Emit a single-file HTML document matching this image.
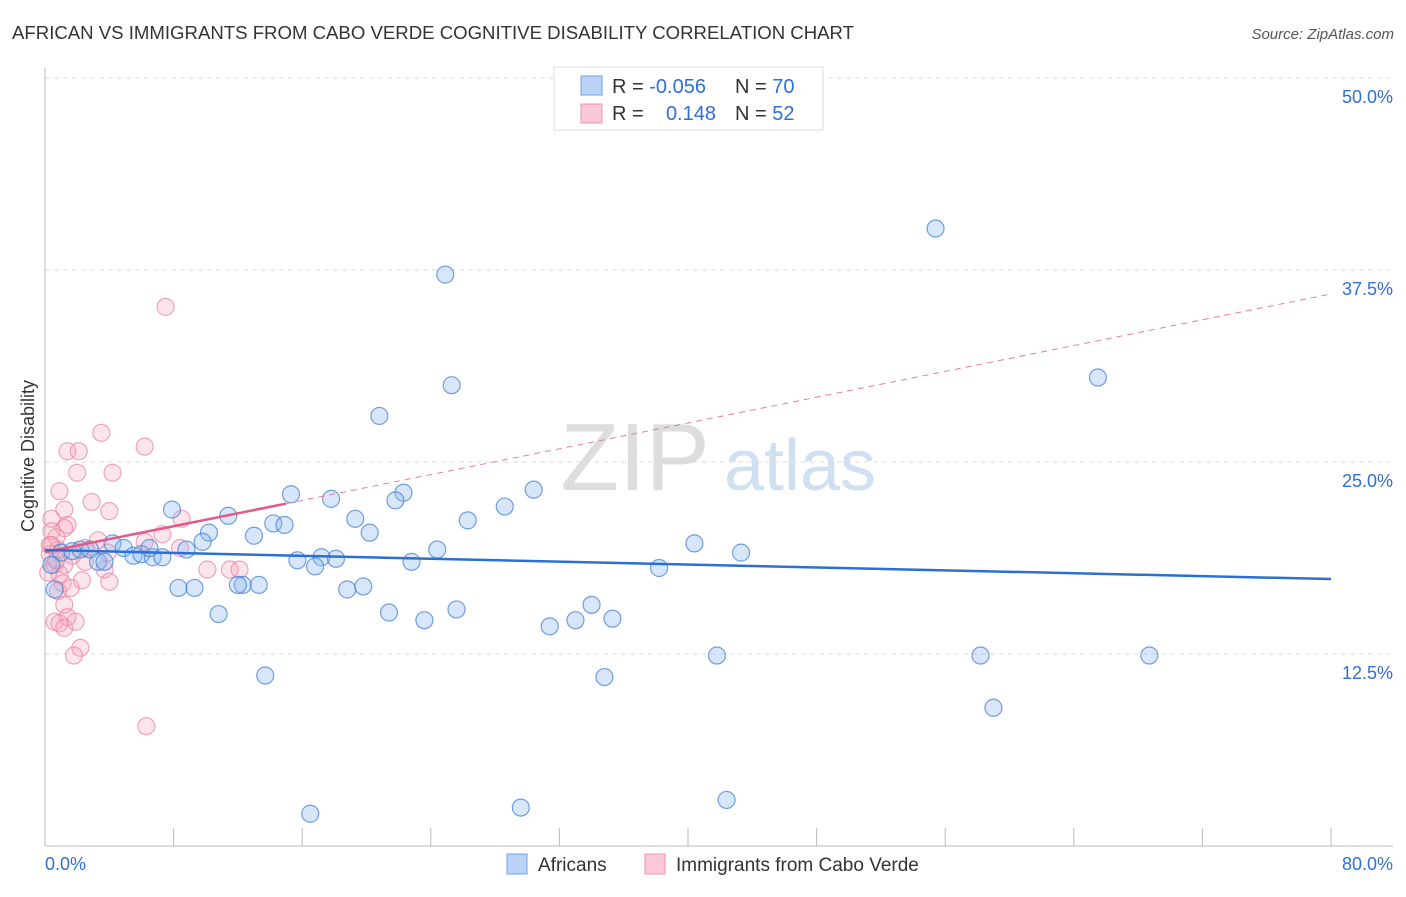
<!DOCTYPE html>
<html><head><meta charset="utf-8"><style>
body{margin:0;background:#fff;font-family:"Liberation Sans",sans-serif;}
svg text{font-family:"Liberation Sans",sans-serif;}
</style></head><body>
<svg id="chart" width="1406" height="892" xmlns="http://www.w3.org/2000/svg">
<text x="12" y="39" font-size="18" fill="#333" textLength="842" lengthAdjust="spacingAndGlyphs">AFRICAN VS IMMIGRANTS FROM CABO VERDE COGNITIVE DISABILITY CORRELATION CHART</text>
<text x="1394" y="39" font-size="15" fill="#555" font-style="italic" text-anchor="end">Source: ZipAtlas.com</text>
<g><text x="635" y="490" font-size="96" fill="#ddd" font-family="Liberation Serif,serif" text-anchor="middle">ZIP</text><text x="800" y="490" font-size="72" fill="#cfe0f3" text-anchor="middle">atlas</text></g>
<g id="grid"></g>
<g id="axes"></g>
<g id="marks"></g>
<text transform="translate(34,456) rotate(-90)" font-size="18" fill="#333" text-anchor="middle">Cognitive Disability</text>
<g>
<rect x="554" y="67" width="269" height="63" fill="#fff" stroke="#ddd"/>
<rect x="581" y="76" width="21" height="19" fill="#b8d3f5" stroke="#6fa3e6"/>
<rect x="581" y="104" width="21" height="19" fill="#fbc8d8" stroke="#ee92ad"/>
<text x="612" y="93" font-size="20" fill="#333">R = <tspan fill="#2f6fd6">-0.056</tspan></text>
<text x="735" y="93" font-size="20" fill="#333">N = <tspan fill="#2f6fd6">70</tspan></text>
<text x="612" y="120" font-size="20" fill="#333">R = </text>
<text x="716" y="120" font-size="20" fill="#2f6fd6" text-anchor="end">0.148</text>
<text x="735" y="120" font-size="20" fill="#333">N = <tspan fill="#2f6fd6">52</tspan></text>
</g>
<g>
<rect x="507" y="854" width="20" height="20" fill="#b8d3f5" stroke="#6fa3e6"/>
<text x="538" y="871" font-size="19" fill="#333">Africans</text>
<rect x="645" y="854" width="20" height="20" fill="#fbc8d8" stroke="#ee92ad"/>
<text x="676" y="871" font-size="19" fill="#333">Immigrants from Cabo Verde</text>
</g>
</svg>
<script>
const yTicks=[12.5,25,37.5,50];
const yTickLabels=["12.5%","25.0%","37.5%","50.0%"];
const xTicks=[0,10,20,30,40,50,60,70,80,90,100];
const africanX=[55.4,24.9,65.5,25.3,20.8,30.4,22.3,15.3,17.8,21.8,28.6,7.9,11.4,19.3,26.3,14.2,14.9,10.2,20.2,13.0,9.8,40.4,4.2,8.8,24.4,43.3,4.9,1.0,1.7,2.2,2.8,3.3,3.7,5.5,6.0,6.7,7.3,6.5,15.7,17.2,18.1,16.8,22.8,38.2,8.3,9.3,12.3,13.3,12.0,18.8,19.8,10.8,21.4,34.0,25.6,35.3,33.0,23.6,31.4,41.8,58.2,68.7,13.7,34.8,59.0,42.4,29.6,16.5,0.6,0.4];
const africanY=[40.2,37.2,30.5,30.0,28.0,23.2,23.0,22.9,22.6,22.5,22.1,21.9,21.5,21.3,21.2,21.0,20.9,20.4,20.4,20.2,19.8,19.7,19.7,19.3,19.3,19.1,19.4,19.1,19.2,19.3,19.3,18.5,18.5,18.9,19.0,18.8,18.8,19.4,18.6,18.8,18.7,18.2,18.5,18.1,16.8,16.8,17.0,17.0,17.0,16.7,16.9,15.1,15.2,15.7,15.4,14.8,14.7,14.7,14.3,12.4,12.4,12.4,11.1,11.0,9.0,3.0,2.5,2.1,16.7,18.3];
const caboX=[7.5,3.5,6.2,1.4,2.1,2.0,4.2,0.9,2.9,1.2,4.0,8.5,0.4,1.4,1.2,0.4,7.3,0.7,6.2,3.3,0.3,2.5,0.8,1.7,3.9,8.4,2.5,10.1,11.5,12.1,0.3,0.6,1.2,3.7,0.9,2.3,4.0,0.2,1.1,1.6,0.8,1.2,1.4,0.6,0.9,1.2,1.9,2.2,1.8,6.3,0.4,0.7];
const caboY=[35.1,26.9,26.0,25.7,25.7,24.3,24.3,23.1,22.4,21.9,21.8,21.3,21.3,20.9,20.7,20.5,20.3,20.1,19.8,19.9,19.6,19.4,19.3,18.9,19.1,19.4,18.5,18.0,18.0,18.0,19.0,18.3,18.3,18.0,17.7,17.3,17.2,17.8,17.1,16.8,16.6,15.7,14.9,14.6,14.5,14.2,14.6,12.9,12.4,7.8,19.6,18.6];
const blueTrend=[19.27,17.38];
const pinkTrend=[19.14,35.94];
const pinkSolidEnd=15;
const NS="http://www.w3.org/2000/svg";
const X0=45,X1=1331,Y0=846,YPX=15.36;
function sx(v){return X0+(X1-X0)*v/80;}
function sy(v){return Y0-v*YPX;}
function mk(tag,attrs,parent){const e=document.createElementNS(NS,tag);for(const k in attrs)e.setAttribute(k,attrs[k]);parent.appendChild(e);return e;}
const grid=document.getElementById('grid'),axes=document.getElementById('axes'),marks=document.getElementById('marks');
yTicks.forEach((t,i)=>{
 const l=mk('line',{x1:X0,x2:1393,y1:sy(t),y2:sy(t),stroke:'#ddd','stroke-dasharray':'5,4'},grid);
 
 
 const tx=mk('text',{x:1393,y:sy(t)+25,'font-size':18,fill:'#2f6fd6','text-anchor':'end'},grid);
 tx.textContent=yTickLabels[i];
 
 
});
const ya=mk('line',{x1:X0,x2:X0,y1:68,y2:Y0,stroke:'#bbb'},axes);


const xa=mk('line',{x1:X0,x2:1393,y1:Y0,y2:Y0,stroke:'#bbb'},axes);


xTicks.forEach(t=>{const v=t*0.8;if(v>80)return;
 const l=mk('line',{x1:sx(v),x2:sx(v),y1:Y0,y2:Y0-18,stroke:'#bbb'},axes);
 
 
});
const xl0=mk('text',{x:45,y:870,'font-size':18,fill:'#2f6fd6'},axes);xl0.textContent='0.0%';


const xl1=mk('text',{x:1393,y:870,'font-size':18,fill:'#2f6fd6','text-anchor':'end'},axes);xl1.textContent='80.0%';


caboX.forEach((v,i)=>{
 const c=mk('circle',{cx:sx(v),cy:sy(caboY[i]),r:8.5,fill:'rgba(246,164,190,0.3)',stroke:'rgba(236,130,162,0.7)','stroke-width':1.2},marks);
 
 
});
africanX.forEach((v,i)=>{
 const c=mk('circle',{cx:sx(v),cy:sy(africanY[i]),r:8.5,fill:'rgba(140,184,238,0.35)',stroke:'rgba(70,130,215,0.75)','stroke-width':1.2},marks);
 
 
});
const pAt=x=>pinkTrend[0]+(pinkTrend[1]-pinkTrend[0])*x/80;
const pd=mk('line',{x1:sx(pinkSolidEnd),y1:sy(pAt(pinkSolidEnd)),x2:sx(80),y2:sy(pAt(80)),stroke:'#e87c9c','stroke-width':1,'stroke-dasharray':'6,5'},marks);


const ps=mk('line',{x1:sx(0),y1:sy(pAt(0)),x2:sx(pinkSolidEnd),y2:sy(pAt(pinkSolidEnd)),stroke:'#e4588a','stroke-width':2.5},marks);


const bl=mk('line',{x1:sx(0),y1:sy(blueTrend[0]),x2:sx(80),y2:sy(blueTrend[1]),stroke:'#2a6fd6','stroke-width':2.5},marks);


</script>
</body></html>
